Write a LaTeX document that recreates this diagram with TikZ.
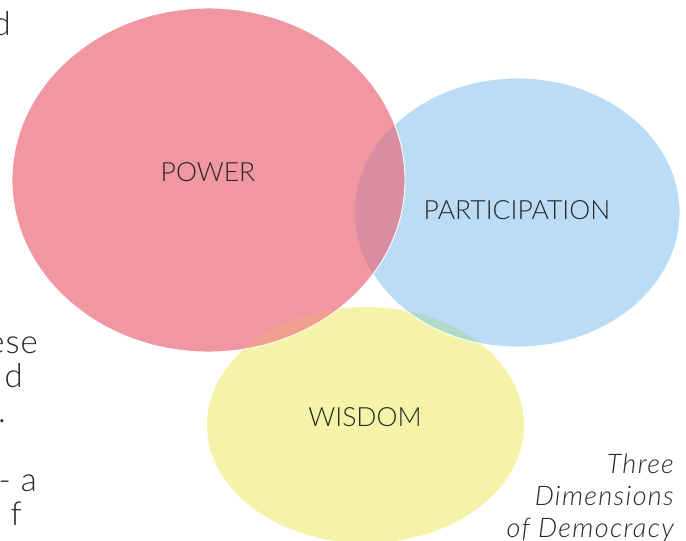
\documentclass[tikz,border=0pt]{standalone}
\usepackage{fontspec}
\setmainfont{Lato}[UprightFont=* Light, ItalicFont=* Light Italic]
\definecolor{pinkc}{RGB}{240,151,162}
\definecolor{bluec}{RGB}{186,220,246}
\definecolor{yellowc}{RGB}{245,243,168}
\definecolor{pbc}{RGB}{217,141,160}
\definecolor{pyc}{RGB}{240,160,142}
\definecolor{byc}{RGB}{178,216,200}
\definecolor{txt}{RGB}{40,40,40}
\begin{document}
\begin{tikzpicture}[x=1pt,y=-1pt,
  lab/.style={text=txt,font=\fontsize{26.5}{30}\selectfont,inner sep=0pt},
  frag/.style={text=txt,font=\fontsize{33}{34}\selectfont\addfontfeatures{LetterSpace=3},inner sep=0pt,anchor=base east},
  captxt/.style={text=txt,font=\fontsize{27}{30}\itshape\selectfont\addfontfeatures{LetterSpace=5},inner sep=0pt,anchor=base east},
  wedge/.style={draw=white,line width=0.9pt}]
\useasboundingbox (0,0) rectangle (686,541);
\def\pinkE{(208.5,180) ellipse [x radius=196.5, y radius=172]}
\def\blueE{(517.5,212.5) ellipse [x radius=162.5, y radius=134.5]}
\def\yelE{(365.5,425) ellipse [x radius=158.5, y radius=118]}
% fills
\fill[yellowc] \yelE;
\fill[bluec] \blueE;
\begin{scope}
  \clip \yelE;
  \fill[byc] \blueE;
\end{scope}
\draw[wedge] \blueE;
\fill[pinkc] \pinkE;
\begin{scope}
  \clip \pinkE;
  \fill[pbc] \blueE;
  \fill[pyc] \yelE;
\end{scope}
\draw[wedge] \pinkE;
% labels
\node[lab] (power) at (208,172) {POWER};
\node[lab] (part) at (517,210) {PARTICIPATION};
\node[lab] (wis) at (365,417) {WISDOM};
% caption
\node[captxt] (c1) at (674,473) {Three};
\node[captxt] (c2) at (674,505) {Dimensions};
\node[captxt] (c3) at (674,537) {of Democracy};
% cropped text fragments at the left edge
\node[frag] (f0) at (11,35) {d};
\node[frag] (f1) at (38,353) {ese};
\node[frag] (f2) at (23,387.5) {d};
\node[frag] (f3) at (6,422) {.};
\node[frag] (f4) at (37,491) {- a};
\node[frag] (f5) at (22,525.5) {f};
\end{tikzpicture}
\end{document}
